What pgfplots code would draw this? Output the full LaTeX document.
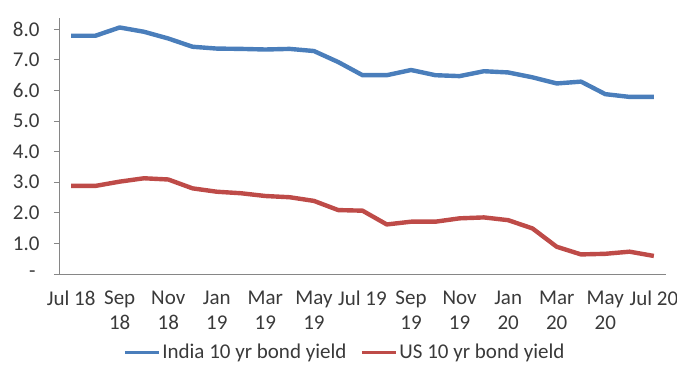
\documentclass[border=0pt]{standalone}
\usepackage{pgfplots}
\pgfplotsset{compat=1.18}
\usepackage{fontspec}
\setmainfont{Carlito}
\definecolor{indiablue}{HTML}{4A7EBB}
\definecolor{usred}{HTML}{BE4B48}
\definecolor{axgray}{HTML}{868686}
\definecolor{txt}{HTML}{3A3A3A}
\begin{document}
\begin{tikzpicture}
\begin{axis}[
  scale only axis,
  width=607pt, height=256pt,
  xmin=-0.5, xmax=24.5, ymin=0, ymax=8.37,
  axis lines*=left,
  axis line style={axgray, line width=0.9pt, -},
  every tick/.style={axgray, line width=0.9pt},
  tick align=outside,
  major tick length=5pt,
  xtick={0,2,...,24},
  xticklabels={Jul 18,Sep\\18,Nov\\18,Jan\\19,Mar\\19,May\\19,Jul 19,Sep\\19,Nov\\19,Jan\\20,Mar\\20,May\\20,Jul 20},
  x tick style={draw=none},
  extra x ticks={-0.5,1.5,3.5,5.5,7.5,9.5,11.5,13.5,15.5,17.5,19.5,21.5,23.5},
  extra x tick labels={},
  extra x tick style={tick style={axgray, line width=0.9pt}, major tick length=5pt},
  ytick={0,1,...,8},
  yticklabels={-\kern4pt,1.0,2.0,3.0,4.0,5.0,6.0,7.0,8.0},
  every tick label/.append style={font=\fontsize{21}{25}\selectfont, text=txt},
  xticklabel style={align=center, anchor=north, yshift=-8pt},
  yticklabel style={xshift=-11pt},
  legend style={at={(0.471,-0.305)}, anchor=center, draw=none, fill=none,
    font=\fontsize{21}{25}\selectfont, text=txt, legend columns=2,
    /tikz/every even column/.append style={column sep=12pt}},
  legend image code/.code={\draw[#1, line width=3pt] (0pt,0pt) -- (34pt,0pt);},
  clip=false,
]
\addplot[indiablue, line width=4.4pt, line join=round] coordinates {
(0,7.79)(1,7.79)(2,8.06)(3,7.92)(4,7.70)(5,7.43)(6,7.37)(7,7.36)(8,7.34)(9,7.36)
(10,7.29)(11,6.93)(12,6.50)(13,6.50)(14,6.67)(15,6.50)(16,6.47)(17,6.63)(18,6.59)
(19,6.43)(20,6.23)(21,6.29)(22,5.88)(23,5.79)(24,5.79)};
\addlegendentry{India 10 yr bond yield}
\addplot[usred, line width=4.4pt, line join=round] coordinates {
(0,2.88)(1,2.88)(2,3.02)(3,3.13)(4,3.09)(5,2.80)(6,2.69)(7,2.64)(8,2.55)(9,2.51)
(10,2.39)(11,2.09)(12,2.07)(13,1.62)(14,1.71)(15,1.71)(16,1.82)(17,1.85)(18,1.76)
(19,1.49)(20,0.89)(21,0.64)(22,0.66)(23,0.73)(24,0.59)};
\addlegendentry{US 10 yr bond yield}
\end{axis}
\pgfresetboundingbox
\path[use as bounding box] (-59pt,-103pt) rectangle (618pt,274pt);
\end{tikzpicture}
\end{document}
